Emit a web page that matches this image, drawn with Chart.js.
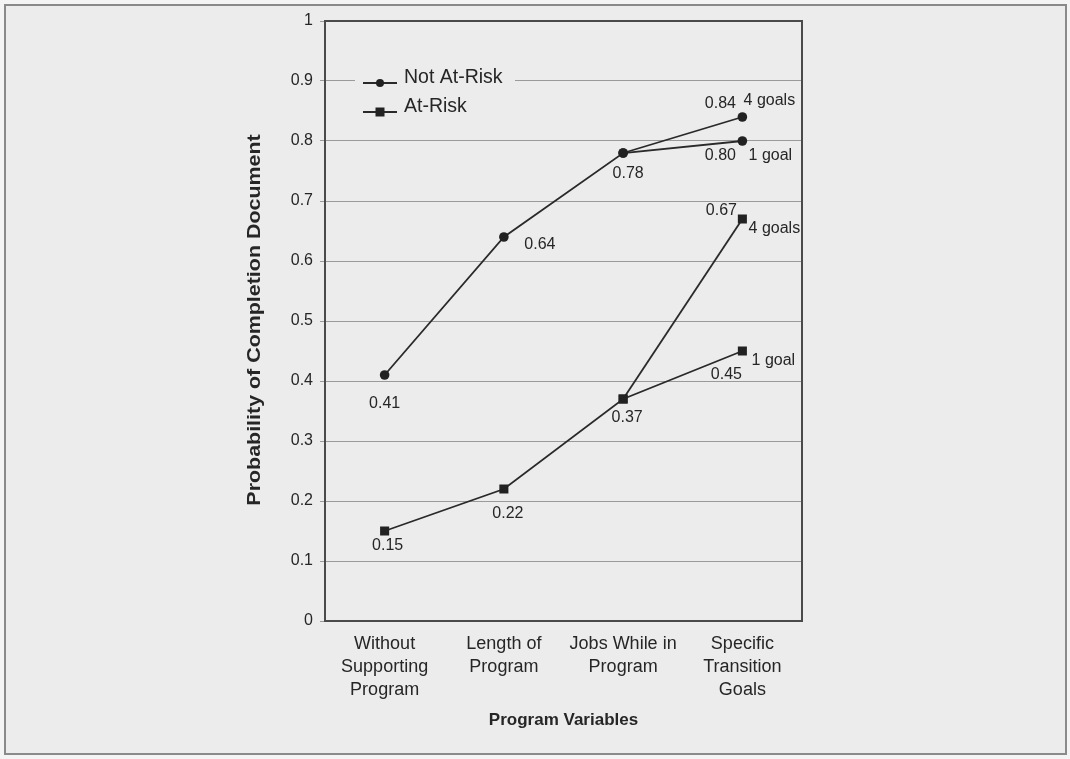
<!DOCTYPE html>
<html><head><meta charset="utf-8">
<script src="https://cdn.jsdelivr.net/npm/chart.js@4/dist/chart.umd.min.js"></script>
<style>html,body{margin:0;padding:0;background:#f4f4f4;}canvas{display:block;}</style>
</head><body>
<canvas id="c" width="1070" height="759"></canvas>
<script>
// ---- data ----
const categories = [["Without","Supporting","Program"],["Length of","Program"],["Jobs While in","Program"],["Specific","Transition","Goals"]];
const notAtRisk1Goal  = [0.41, 0.64, 0.78, 0.80];
const notAtRisk4Goals = [null, null, 0.78, 0.84];
const atRisk1Goal     = [0.15, 0.22, 0.37, 0.45];
const atRisk4Goals    = [null, null, 0.37, 0.67];
const yTickLabels = ["0","0.1","0.2","0.3","0.4","0.5","0.6","0.7","0.8","0.9","1"];
const legendLabels = ["Not At-Risk","At-Risk"];
const goalLabels = ["1 goal","4 goals"];
const xTitle = "Program Variables";
const yTitle = "Probability of Completion Document";

// ---- styling ----
const TEXT = '#262626';
const LINE = '#2a2a2a';
const BG = '#ececec';
const FONT = "'Liberation Sans', Arial, Helvetica, sans-serif";

// label placement (pixel offsets from each point), per dataset / index
const labelPlacement = {
  0: {0:[0,29], 1:[36,8], 2:[5,21], 3:[-22,15]},
  1: {3:[-22,-13]},
  2: {0:[3,15], 1:[4,25], 2:[4,19], 3:[-16,24]},
  3: {3:[-21,-8]}
};
const goalPlacement = { 0:[3,[28,15],0], 1:[3,[27,-16],1], 2:[3,[31,10],0], 3:[3,[32,10],1] };

const framePlugin = {
  id: 'frame',
  beforeDraw(chart) {
    const ctx = chart.ctx;
    ctx.save();
    ctx.fillStyle = '#f4f4f4';
    ctx.fillRect(0,0,chart.width,chart.height);
    ctx.fillStyle = BG;
    ctx.fillRect(5,5,1061,749);
    ctx.strokeStyle = '#8a8a8a';
    ctx.lineWidth = 2;
    ctx.strokeRect(5,5,1061,749);
    ctx.restore();
  },
  beforeDatasetsDraw(chart) {
    const ctx = chart.ctx, a = chart.chartArea;
    ctx.save();
    // legend background (hides gridline behind legend)
    ctx.fillStyle = BG;
    ctx.fillRect(355, 64, 160, 64);
    // plot box top and right borders
    ctx.strokeStyle = '#4a4a4a';
    ctx.lineWidth = 2;
    ctx.beginPath();
    ctx.moveTo(a.left, a.top); ctx.lineTo(a.right, a.top); ctx.lineTo(a.right, a.bottom);
    ctx.stroke();
    ctx.restore();
  },
  afterDatasetsDraw(chart) {
    const ctx = chart.ctx;
    ctx.save();
    // legend
    const items = [{y:83, ty:78, style:'circle'}, {y:112, ty:107, style:'rect'}];
    items.forEach((it, i) => {
      ctx.strokeStyle = LINE; ctx.lineWidth = 1.8;
      ctx.beginPath(); ctx.moveTo(363, it.y); ctx.lineTo(397, it.y); ctx.stroke();
      ctx.fillStyle = '#222';
      if (it.style === 'circle') { ctx.beginPath(); ctx.arc(380, it.y, 4, 0, Math.PI*2); ctx.fill(); }
      else { ctx.fillRect(375.5, it.y-4.5, 9, 9); }
      ctx.fillStyle = TEXT;
      ctx.font = "19.5px " + FONT;
      ctx.textAlign = 'left'; ctx.textBaseline = 'middle';
      ctx.fillText(legendLabels[i], 404, it.ty);
    });
    // data labels
    ctx.font = "16px " + FONT;
    ctx.fillStyle = TEXT;
    ctx.textAlign = 'center'; ctx.textBaseline = 'middle';
    chart.data.datasets.forEach((ds, di) => {
      const meta = chart.getDatasetMeta(di);
      const place = labelPlacement[di] || {};
      meta.data.forEach((pt, idx) => {
        const v = ds.data[idx];
        if (v === null || !place[idx]) return;
        ctx.fillText(v.toFixed(2), pt.x + place[idx][0], pt.y + place[idx][1]);
      });
      const g = goalPlacement[di];
      if (g) {
        const pt = meta.data[g[0]];
        ctx.fillText(goalLabels[g[2]], pt.x + g[1][0], pt.y + g[1][1]);
      }
    });
    // y axis title (stretched along its length like the original)
    ctx.save();
    ctx.translate(255, 320);
    ctx.rotate(-Math.PI/2);
    ctx.scale(1.19, 1);
    ctx.font = "bold 18px " + FONT;
    ctx.fillStyle = TEXT;
    ctx.fillText(yTitle, 0, 0);
    ctx.restore();
    ctx.restore();
  }
};

const lineDs = (label, data, style, radius) => ({
  label, data,
  borderColor: LINE, borderWidth: 1.8,
  backgroundColor: '#222', pointBackgroundColor: '#222', pointBorderColor: '#222',
  pointStyle: style, pointRadius: radius, pointHoverRadius: radius, pointBorderWidth: 0,
  tension: 0, fill: false
});

new Chart(document.getElementById('c'), {
  type: 'line',
  data: {
    labels: categories,
    datasets: [
      lineDs(legendLabels[0] + ' (' + goalLabels[0] + ')', notAtRisk1Goal, 'circle', 4.8),
      lineDs(legendLabels[0] + ' (' + goalLabels[1] + ')', notAtRisk4Goals, 'circle', 4.8),
      lineDs(legendLabels[1] + ' (' + goalLabels[0] + ')', atRisk1Goal, 'rect', 6.4),
      lineDs(legendLabels[1] + ' (' + goalLabels[1] + ')', atRisk4Goals, 'rect', 6.4)
    ]
  },
  options: {
    responsive: false,
    animation: false,
    events: [],
    layout: { padding: { top: 21, right: 268, bottom: 0, left: 0 } },
    plugins: { legend: { display: false }, tooltip: { enabled: false }, title: { display: false } },
    scales: {
      x: {
        type: 'category',
        offset: true,
        grid: { display: false, drawTicks: false },
        border: { display: true, color: '#4a4a4a', width: 2 },
        ticks: { color: TEXT, padding: 12, maxRotation: 0, autoSkip: false,
                 font: { family: FONT, size: 18, lineHeight: 1.265 } },
        title: { display: true, text: xTitle, color: TEXT,
                 font: { family: FONT, size: 17, weight: 'bold', lineHeight: 1.2 },
                 padding: { top: 0, bottom: 28 } },
        afterFit(s) { s.height = 138; }
      },
      y: {
        min: 0, max: 1,
        grid: { color: '#9a9a9a', lineWidth: 1, tickLength: 5, drawTicks: true },
        border: { display: true, color: '#4a4a4a', width: 2 },
        ticks: { stepSize: 0.1, padding: 7, color: TEXT,
                 font: { family: FONT, size: 16 },
                 callback: (v, i) => yTickLabels[i] },
        afterFit(s) { s.width = 325; }
      }
    }
  },
  plugins: [framePlugin]
});
</script>
</body></html>
